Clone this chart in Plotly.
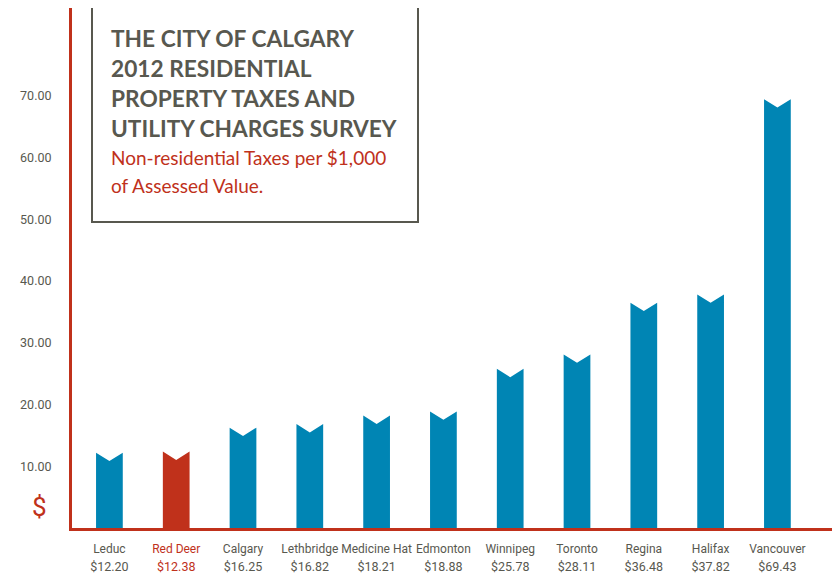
import plotly.graph_objects as go

cities = ["Leduc", "Red Deer", "Calgary", "Lethbridge", "Medicine Hat", "Edmonton",
          "Winnipeg", "Toronto", "Regina", "Halifax", "Vancouver"]
values = [12.20, 12.38, 16.25, 16.82, 18.21, 18.88, 25.78, 28.11, 36.48, 37.82, 69.43]
highlight = "Red Deer"
ytick_vals = [10, 20, 30, 40, 50, 60, 70]
title_lines = ["THE CITY OF CALGARY", "2012 RESIDENTIAL", "PROPERTY TAXES AND",
               "UTILITY CHARGES SURVEY"]
subtitle_lines = ["Non-residential Taxes per $1,000", "of Assessed Value."]

BLUE = "#0085b4"
RED = "#c0311b"
GRAY = "#58584f"
COND = "Roboto, sans-serif"

# page body has an 8px margin; figure is offset to fill the window
OFF = 8
W, H = 840, 576 - OFF
ML, MR, MT, MB = 72 - OFF, 0, 0, 48
PW, PH = W - ML - MR, H - MT - MB
XSTEP = 66.8  # pixels per category (used for range only)
xrange_ = [-0.56, -0.56 + PW / XSTEP]

half_w = 0.2
notch = 1.35

fig = go.Figure()
for i, (c, v) in enumerate(zip(cities, values)):
    col = RED if c == highlight else BLUE
    xs = [i - half_w, i - half_w, i, i + half_w, i + half_w, i - half_w]
    ys = [0, v, v - notch, v, 0, 0]
    fig.add_trace(go.Scatter(x=xs, y=ys, fill="toself", fillcolor=col, mode="lines",
                             line=dict(width=0, color=col), hoverinfo="skip",
                             showlegend=False))

# invisible trace to hold the second (value-label) x axis
fig.add_trace(go.Scatter(x=[0], y=[0], xaxis="x2", yaxis="y", mode="markers",
                         marker=dict(opacity=0), hoverinfo="skip", showlegend=False))


def colored(t, c):
    return f'<span style="color:{RED}">{t}</span>' if c == highlight else t


name_text = [colored(c, c) for c in cities]
value_text = [colored(f"${v:.2f}", c) for c, v in zip(cities, values)]

fig.update_layout(
    xaxis=dict(range=xrange_, showgrid=False, zeroline=False,
               showline=True, linecolor=RED, linewidth=3,
               tickvals=list(range(len(cities))), ticktext=name_text,
               ticks="", tickangle=0, automargin=False,
               tickfont=dict(family=COND, size=12, color=GRAY),
               ticklabelstandoff=8),
    xaxis2=dict(range=xrange_, overlaying="x", side="bottom", anchor="y",
                showgrid=False, zeroline=False, showline=False,
                tickvals=list(range(len(cities))), ticktext=value_text,
                ticks="", tickangle=0, automargin=False,
                tickfont=dict(family=COND, size=12.5, color=GRAY),
                ticklabelstandoff=29),
    yaxis=dict(range=[0, 84.2], showgrid=False, zeroline=False,
               showline=True, linecolor=RED, linewidth=3,
               tickvals=ytick_vals, ticktext=[f"{v:.2f}" for v in ytick_vals],
               ticks="", automargin=False,
               tickfont=dict(family=COND, size=12.5, color=GRAY),
               ticklabelstandoff=15),
)


def px_x(x):
    return (x - OFF - ML) / PW


def px_y(y):
    return 1 - (y - OFF - MT) / PH


fig.add_shape(type="rect", xref="paper", yref="paper",
              x0=px_x(92), x1=px_x(418), y0=px_y(222), y1=px_y(-10),
              line=dict(color=GRAY, width=2), fillcolor="rgba(0,0,0,0)")

for k, t in enumerate(title_lines):
    fig.add_annotation(xref="paper", yref="paper", x=px_x(109), y=px_y(38 + 30 * k),
                       xanchor="left", yanchor="middle", showarrow=False,
                       text=f"<b>{t}</b>",
                       font=dict(family="Lato, Open Sans, sans-serif", size=22.7, color=GRAY))
for k, t in enumerate(subtitle_lines):
    fig.add_annotation(xref="paper", yref="paper", x=px_x(109), y=px_y(157 + 28 * k),
                       xanchor="left", yanchor="middle", showarrow=False,
                       text=t,
                       font=dict(family="Lato, Open Sans, sans-serif", size=19, color=RED))

fig.add_annotation(xref="paper", yref="paper", x=px_x(39), y=px_y(507),
                   xanchor="center", yanchor="middle", showarrow=False, text="$",
                   font=dict(family=COND, size=26, color=RED))

fig.update_layout(width=W, height=H, margin=dict(l=ML, r=MR, t=MT, b=MB),
                  plot_bgcolor="white", paper_bgcolor="white", showlegend=False)

fig.write_html("out.html")
